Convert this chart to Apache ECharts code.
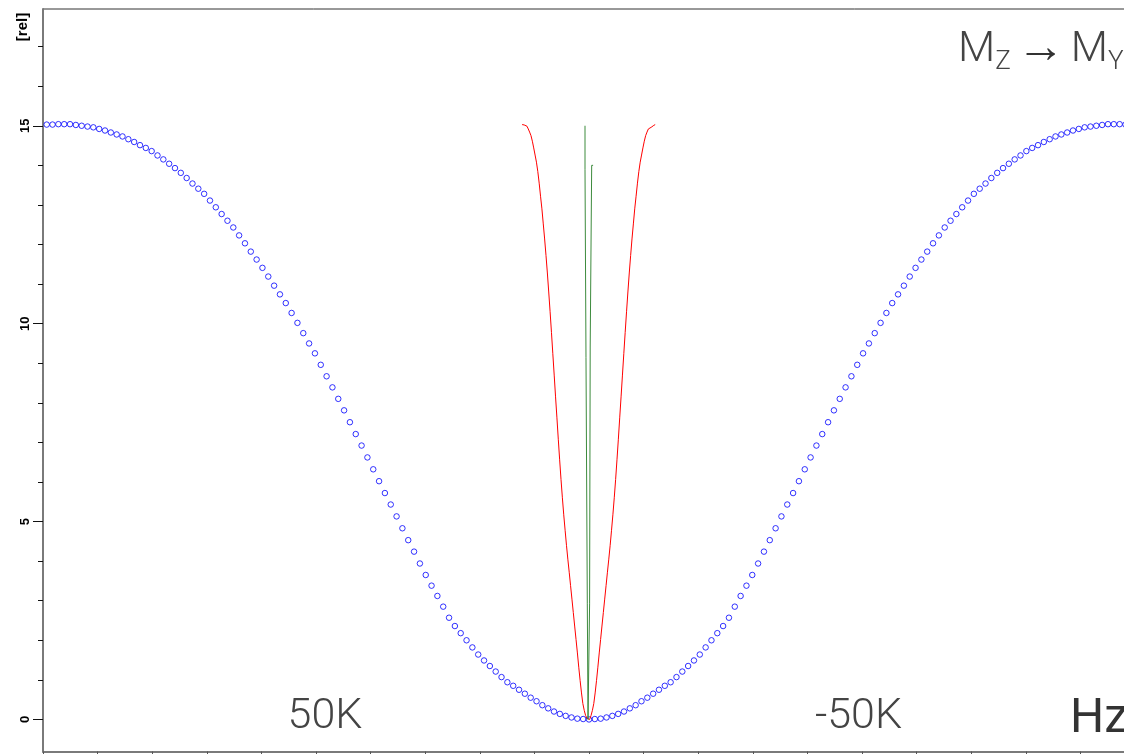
<!DOCTYPE html>
<html>
<head>
<meta charset="utf-8">
<script src="https://cdn.jsdelivr.net/npm/echarts@6/dist/echarts.min.js"></script>
<style>
  html, body { margin: 0; padding: 0; background: #fff; }
  #chart { width: 1124px; height: 754px; }
</style>
</head>
<body>
<div id="chart"></div>
<script>
// Axis ticks and labels
const levelTicks = [0, 1, 2, 3, 4, 5, 6, 7, 8, 9, 10, 11, 12, 13, 14, 15, 16, 17, 18];
const levelLabels = [0, 5, 10, 15];
const freqLabels = [50000, -50000];

// Wide excitation profile (blue circles), sampled every 1068 Hz from +99.3 kHz to -99.3 kHz
const blueStepHz = 1068;
const blueLevels = [
  15.03, 15.03, 15.04, 15.04, 15.04, 15.02, 15.00, 14.98, 14.96, 14.92,
  14.88, 14.83, 14.78, 14.73, 14.66, 14.59, 14.51, 14.44, 14.36, 14.25,
  14.15, 14.04, 13.93, 13.81, 13.68, 13.54, 13.41, 13.28, 13.11, 12.94,
  12.77, 12.60, 12.43, 12.23, 12.03, 11.82, 11.62, 11.41, 11.19, 10.96,
  10.74, 10.52, 10.27, 10.02, 9.76, 9.50, 9.25, 8.96, 8.67, 8.39,
  8.10, 7.81, 7.51, 7.21, 6.92, 6.62, 6.32, 6.02, 5.72, 5.43,
  5.13, 4.83, 4.53, 4.24, 3.94, 3.65, 3.38, 3.12, 2.85, 2.57,
  2.36, 2.18, 2.00, 1.82, 1.64, 1.49, 1.35, 1.21, 1.07, 0.94,
  0.85, 0.75, 0.65, 0.55, 0.46, 0.36, 0.28, 0.20, 0.14, 0.09,
  0.05, 0.02, 0.01,
  0,
  0.01, 0.02, 0.05,
  0.09, 0.14, 0.20, 0.28, 0.36, 0.46, 0.55, 0.65, 0.75, 0.85,
  0.94, 1.07, 1.21, 1.35, 1.49, 1.64, 1.82, 2.00, 2.18, 2.36,
  2.57, 2.85, 3.12, 3.38, 3.65, 3.94, 4.24, 4.53, 4.83, 5.13,
  5.43, 5.72, 6.02, 6.32, 6.62, 6.92, 7.21, 7.51, 7.81, 8.10,
  8.39, 8.67, 8.96, 9.25, 9.50, 9.76, 10.02, 10.27, 10.52, 10.74,
  10.96, 11.19, 11.41, 11.62, 11.82, 12.03, 12.23, 12.43, 12.60, 12.77,
  12.94, 13.11, 13.28, 13.41, 13.54, 13.68, 13.81, 13.93, 14.04, 14.15,
  14.25, 14.36, 14.44, 14.51, 14.59, 14.66, 14.73, 14.78, 14.83, 14.88,
  14.92, 14.96, 14.98, 15.00, 15.02, 15.04, 15.04, 15.04, 15.03, 15.03
];

// Narrow profile (red), sampled every 250 Hz from +12.25 kHz to -12.25 kHz
const redStepHz = 250;
const redLevels = [
  15.03, 15.02, 15.01, 14.99, 14.96, 14.92, 14.84, 14.75, 14.61, 14.44,
  14.26, 14.08, 13.84, 13.55, 13.22, 12.90, 12.52, 12.14, 11.72, 11.28,
  10.80, 10.30, 9.78, 9.24, 8.70, 8.15, 7.62, 7.08, 6.56, 6.06,
  5.60, 5.17, 4.78, 4.40, 4.05, 3.72, 3.38, 3.04, 2.70, 2.36,
  2.02, 1.68, 1.32, 0.98, 0.67, 0.40, 0.23, 0.10, 0.03,
  0,
  0.03, 0.10, 0.23, 0.40, 0.67, 0.98, 1.32, 1.68, 2.02,
  2.36, 2.70, 3.04, 3.38, 3.72, 4.05, 4.40, 4.78, 5.17, 5.60,
  6.06, 6.56, 7.08, 7.62, 8.15, 8.70, 9.24, 9.78, 10.30, 10.80,
  11.28, 11.72, 12.14, 12.52, 12.90, 13.22, 13.55, 13.84, 14.08, 14.26,
  14.44, 14.61, 14.75, 14.84, 14.92, 14.96, 14.99, 15.01, 15.02, 15.03
];

// Very narrow profile (green), stepped
const greenFreqHz = [730, 550, 310, 180, -110, -220, -490, -750];
const greenLevels = [15.0, 13.9, 9.15, 2.92, 0, 2.92, 9.41, 14.0];

function combFrom(levels, step) {
  const half = (levels.length - 1) / 2;
  return levels.map((v, i) => [(half - i) * step, v]);
}

const blueData = combFrom(blueLevels, blueStepHz);
const redData = combFrom(redLevels, redStepHz);
const greenData = greenFreqHz.map((f, i) => [f, greenLevels[i]]);

const Y_MIN = -0.81, Y_MAX = 17.95;
const lightFont = 'Roboto';

const chart = echarts.init(document.getElementById('chart'), null, { renderer: 'canvas' });

chart.setOption({
  animation: false,
  backgroundColor: '#ffffff',
  grid: {
    left: 43, width: 1092, top: 9, bottom: 2.5,
    outerBoundsMode: 'none',
    containLabel: false,
    show: true, borderColor: '#333', borderWidth: 1,
    backgroundColor: 'transparent'
  },
  xAxis: {
    type: 'value',
    min: -100000, max: 100000, interval: 10000,
    inverse: true,
    axisLine: { show: true, onZero: false, lineStyle: { color: '#7a7a7a', width: 2 } },
    axisTick: { show: true, length: 3, lineStyle: { color: '#555', width: 1 } },
    splitLine: { show: false },
    axisLabel: {
      inside: true,
      customValues: freqLabels,
      margin: 34,
      verticalAlign: 'middle',
      color: '#444',
      fontFamily: lightFont, fontWeight: 300, fontSize: 43,
      formatter: v => v > 0 ? '{pos|' + (v / 1000) + 'K}' : '{neg|' + (v / 1000) + 'K}',
      rich: {
        pos: { fontFamily: lightFont, fontWeight: 300, fontSize: 43, color: '#444', padding: [0, 0, 0, 18] },
        neg: { fontFamily: lightFont, fontWeight: 300, fontSize: 43, color: '#444', padding: [0, 7, 0, 0] }
      }
    }
  },
  yAxis: [
    {
      type: 'value', min: Y_MIN, max: Y_MAX,
      axisLine: { show: true, onZero: false, lineStyle: { color: '#7a7a7a', width: 2 } },
      axisTick: { show: true, customValues: levelTicks, length: 5, lineStyle: { color: '#111', width: 1 } },
      splitLine: { show: false },
      axisLabel: {
        customValues: levelLabels,
        rotate: 90, margin: 11,
        color: '#000', fontWeight: 'bold', fontSize: 13,
        fontFamily: '"Liberation Sans", Arial, sans-serif'
      }
    },
    {
      type: 'value', min: Y_MIN, max: Y_MAX, position: 'left',
      axisLine: { show: false, onZero: false },
      axisTick: { show: true, customValues: levelLabels, length: 10, lineStyle: { color: '#111', width: 1 } },
      axisLabel: { show: false },
      splitLine: { show: false }
    }
  ],
  graphic: [
    {
      type: 'text', x: 23, y: 27, rotation: Math.PI / 2, silent: true,
      style: {
        text: '[rel]', align: 'center', verticalAlign: 'middle',
        fontFamily: '"Liberation Sans", Arial, sans-serif', fontWeight: 'bold', fontSize: 15, fill: '#000'
      }
    },
    {
      type: 'text', x: 958, y: 25, silent: true,
      style: {
        text: '{m|M}{s|Z}{a|→}{m|M}{s|Y}',
        align: 'left', verticalAlign: 'top',
        rich: {
          m: { fontFamily: lightFont, fontWeight: 300, fontSize: 43, lineHeight: 50, fill: '#444' },
          s: { fontFamily: lightFont, fontWeight: 300, fontSize: 26, lineHeight: 22, verticalAlign: 'bottom', fill: '#444' },
          a: { fontFamily: lightFont, fontWeight: 500, fontSize: 48, lineHeight: 50, padding: [0, 6, 0, 6], fill: '#333' }
        }
      }
    },
    {
      type: 'text', x: 1070, y: 720, silent: true,
      style: {
        text: 'Hz', align: 'left', verticalAlign: 'middle',
        fontFamily: lightFont, fontSize: 48, fill: '#333'
      }
    }
  ],
  series: [
    {
      type: 'scatter', name: 'wide', data: blueData,
      symbol: 'circle', symbolSize: 5.5,
      itemStyle: { color: 'rgba(255,255,255,0)', borderColor: '#0000ff', borderWidth: 1 },
      emphasis: { disabled: true }, silent: true, z: 2
    },
    {
      type: 'line', name: 'narrow', data: redData,
      showSymbol: false, step: 'middle',
      lineStyle: { color: '#ff0000', width: 1 },
      emphasis: { disabled: true }, silent: true, z: 3
    },
    {
      type: 'line', name: 'narrowest', data: greenData,
      showSymbol: false, step: 'start',
      lineStyle: { color: '#3d8b3d', width: 1 },
      emphasis: { disabled: true }, silent: true, z: 4
    }
  ]
});
</script>
</body>
</html>
